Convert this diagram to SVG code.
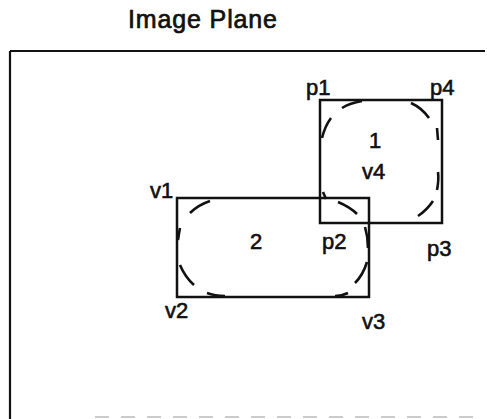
<svg xmlns="http://www.w3.org/2000/svg" width="487" height="419" viewBox="0 0 487 419">
<style>
.t{font-family:"Liberation Sans",Arial,sans-serif;font-size:22px;fill:#111;stroke:#111;stroke-width:0.6}
.title{font-size:25px;stroke-width:0.7}
.box{fill:none;stroke:#111;stroke-width:2.5}
.d{fill:none;stroke:#111;stroke-width:2.6;stroke-linecap:butt}
</style>
<rect width="487" height="419" fill="#fff"/>
<text class="t title" x="128" y="28" textLength="149">Image Plane</text>
<g id="frame">
<path d="M10,51 L485,51" fill="none" stroke="#111" stroke-width="2"/>
<path d="M10,51 L10,419" fill="none" stroke="#111" stroke-width="2.2"/>
<path d="M95,417 L482,417" fill="none" stroke="#bbb" stroke-width="1.5" stroke-dasharray="14,12"/>
</g>
<g id="region1">
<rect class="box" x="320" y="100" width="122" height="123"/>
<text class="t" x="369" y="148">1</text>
<text class="t" x="362" y="179">v4</text>
</g>
<g id="region2">
<rect class="box" x="177" y="198" width="192" height="99"/>
<text class="t" x="250" y="249">2</text>
</g>
<g id="connectors">
<path class="d" d="M342,108 Q350,103 362,101"/>
<path class="d" d="M331,118 Q325,126 322,138"/>
<path class="d" d="M411,103 Q422,108 429,118"/>
<path class="d" d="M437,128 L438,140"/>
<path class="d" d="M438,172 Q439,180 437,190"/>
<path class="d" d="M418,216 Q427,210 433,201"/>
<path class="d" d="M338,202 Q350,207 357,214"/>
<path class="d" d="M323,192 L326,199"/>
<path class="d" d="M190,213 Q198,205 210,201"/>
<path class="d" d="M180,228 Q179,233 178,240"/>
<path class="d" d="M180,265 Q185,277 194,285"/>
<path class="d" d="M207,293 Q215,296 225,296"/>
<path class="d" d="M335,296 Q342,296 348,293"/>
<path class="d" d="M355,283 Q363,275 367,262"/>
<path class="d" d="M365,227 Q368,237 368,248"/>
</g>
<g id="labels">
<text class="t" x="306" y="95">p1</text>
<text class="t" x="430" y="95">p4</text>
<text class="t" x="150" y="198">v1</text>
<text class="t" x="322" y="249">p2</text>
<text class="t" x="427" y="256">p3</text>
<text class="t" x="165" y="318">v2</text>
<text class="t" x="362" y="329">v3</text>
</g>
</svg>
